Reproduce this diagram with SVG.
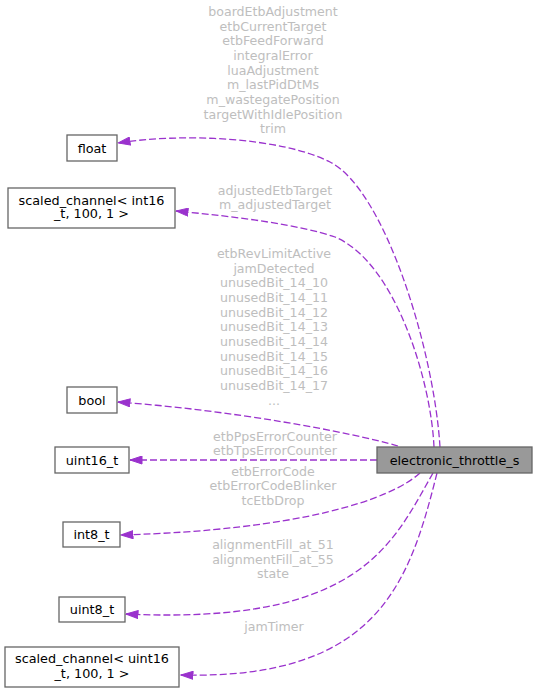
<svg xmlns="http://www.w3.org/2000/svg" width="537" height="692" viewBox="0 0 537 692">
<style>
.node rect{fill:#ffffff;stroke:#666666;stroke-width:1.3}
.node text{font-family:"DejaVu Sans",sans-serif;font-size:12.8px;fill:#000000;text-anchor:middle}
#n_main rect{fill:#999999}
.edge path{fill:none;stroke:#9a32cd;stroke-width:1.3;stroke-dasharray:7,3;marker-end:url(#arrow)}
.lbl{font-family:"DejaVu Sans",sans-serif;font-size:12.6px;fill:#bebebe;text-anchor:middle}
</style>
<defs>
<marker id="arrow" markerUnits="userSpaceOnUse" viewBox="0 0 13 9" markerWidth="13" markerHeight="9" refX="12.5" refY="4.5" orient="auto">
<path d="M0.5,0.5 L12.5,4.5 L0.5,8.5 z" fill="#9a32cd" stroke="#9a32cd" stroke-width="1"/>
</marker>
</defs>
<rect width="537" height="692" fill="#ffffff"/>
<g id="edges" class="edge">
<path d="M440,447 C434,350 385,190 330,162 C280.5,136.8 180,133 118,143"/>
<path d="M434,447 C431,380 395,262 335,237 C300,225 240,217 176,211"/>
<path d="M398,446 C350,432 230,410 118,402"/>
<path d="M377,460 L130,460"/>
<path d="M420,473 C390,500 300,530 121,535"/>
<path d="M433,473 C392,545 360,625 126,614"/>
<path d="M437,473 C410,580 380,680 181,675"/>
</g>
<g id="labels">
<text class="lbl" x="273" y="16">boardEtbAdjustment</text>
<text class="lbl" x="273" y="30.7">etbCurrentTarget</text>
<text class="lbl" x="273" y="45.3">etbFeedForward</text>
<text class="lbl" x="273" y="60">integralError</text>
<text class="lbl" x="273" y="74.7">luaAdjustment</text>
<text class="lbl" x="273" y="89.3">m_lastPidDtMs</text>
<text class="lbl" x="273" y="104">m_wastegatePosition</text>
<text class="lbl" x="273" y="118.7">targetWithIdlePosition</text>
<text class="lbl" x="273" y="133.3">trim</text>
<text class="lbl" x="275" y="194.5">adjustedEtbTarget</text>
<text class="lbl" x="275" y="209">m_adjustedTarget</text>
<text class="lbl" x="274" y="258">etbRevLimitActive</text>
<text class="lbl" x="274" y="272.7">jamDetected</text>
<text class="lbl" x="274" y="287.3">unusedBit_14_10</text>
<text class="lbl" x="274" y="302">unusedBit_14_11</text>
<text class="lbl" x="274" y="316.7">unusedBit_14_12</text>
<text class="lbl" x="274" y="331.3">unusedBit_14_13</text>
<text class="lbl" x="274" y="346">unusedBit_14_14</text>
<text class="lbl" x="274" y="360.7">unusedBit_14_15</text>
<text class="lbl" x="274" y="375.3">unusedBit_14_16</text>
<text class="lbl" x="274" y="390">unusedBit_14_17</text>
<text class="lbl" x="274" y="404.7">...</text>
<text class="lbl" x="275" y="440.5">etbPpsErrorCounter</text>
<text class="lbl" x="275" y="455">etbTpsErrorCounter</text>
<text class="lbl" x="273" y="475.5">etbErrorCode</text>
<text class="lbl" x="273" y="490">etbErrorCodeBlinker</text>
<text class="lbl" x="273" y="504.7">tcEtbDrop</text>
<text class="lbl" x="273" y="549">alignmentFill_at_51</text>
<text class="lbl" x="273" y="563.5">alignmentFill_at_55</text>
<text class="lbl" x="273" y="578">state</text>
<text class="lbl" x="274" y="631">jamTimer</text>
</g>
<g id="n_main" class="node">
<rect x="377" y="447" width="155" height="26"/>
<text x="454.5" y="464.5">electronic_throttle_s</text>
</g>
<g id="n_float" class="node">
<rect x="67" y="135" width="50" height="26"/>
<text x="92" y="152.5">float</text>
</g>
<g id="n_sc_int16" class="node">
<rect x="8" y="188" width="167" height="40"/>
<text x="91.5" y="204.5">scaled_channel&lt; int16</text>
<text x="91.5" y="218">_t, 100, 1 &gt;</text>
</g>
<g id="n_bool" class="node">
<rect x="67" y="387" width="50" height="26"/>
<text x="92" y="404.5">bool</text>
</g>
<g id="n_uint16" class="node">
<rect x="55" y="447" width="74" height="26"/>
<text x="92" y="464.5">uint16_t</text>
</g>
<g id="n_int8" class="node">
<rect x="63" y="522" width="57" height="25"/>
<text x="91.5" y="539">int8_t</text>
</g>
<g id="n_uint8" class="node">
<rect x="59" y="597" width="66" height="25"/>
<text x="92" y="614">uint8_t</text>
</g>
<g id="n_sc_uint16" class="node">
<rect x="5" y="647" width="174" height="40"/>
<text x="92" y="663">scaled_channel&lt; uint16</text>
<text x="92" y="677.5">_t, 100, 1 &gt;</text>
</g>
</svg>
